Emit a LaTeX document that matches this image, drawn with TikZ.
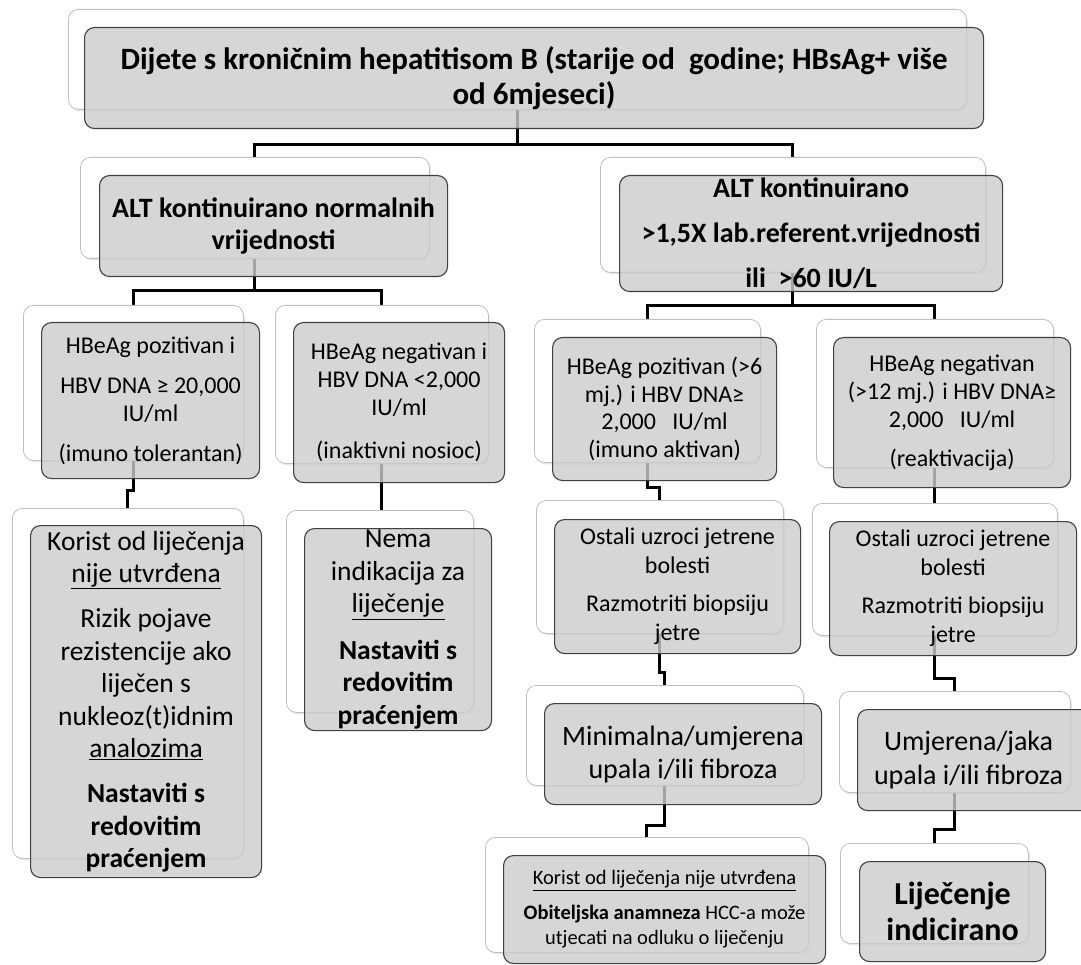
\documentclass[tikz,border=0pt]{standalone}
\usepackage{fontspec}
\setmainfont{Carlito}
\usetikzlibrary{shadows,calc}
\pgfdeclarelayer{bg}
\pgfsetlayers{bg,main}
\tikzset{
  wbox/.style={draw=black!25, fill=white, rounded corners=10pt, line width=0.8pt,
    drop shadow={shadow xshift=1.5pt, shadow yshift=-2pt, opacity=0.18}},
  gbox/.style={draw=black!75, fill=black!20, fill opacity=0.8, text opacity=1,
    rounded corners=10pt, line width=1.1pt, align=center, text=black},
  conn/.style={line width=3pt, black},
  bx/.style args={#1/#2}{anchor=north west, minimum width=#1pt, minimum height=#2pt, inner sep=0pt},
}
\begin{document}
\begin{tikzpicture}[x=1pt,y=-1pt]
\useasboundingbox (0,0) rectangle (1081,965);
\clip (0,0) rectangle (1081,965);
% ---- back (white) boxes
\node[wbox, bx=898/100] (w0) at (68,9) {};
\node[wbox, bx=349/101] (w1L) at (80,157) {};
\node[wbox, bx=385/115] (w1R) at (600,157) {};
\node[wbox, bx=220/155] (wA) at (23,305) {};
\node[wbox, bx=213/158] (wB) at (275,305) {};
\node[wbox, bx=226/143] (wC) at (534,319) {};
\node[wbox, bx=237/148] (wD) at (816,319) {};
\node[wbox, bx=231/350] (wAp) at (12,508) {};
\node[wbox, bx=187/202] (wBp) at (286,510) {};
\node[wbox, bx=247/133] (wCp) at (536,500) {};
\node[wbox, bx=245/132] (wDp) at (812,503) {};
\node[wbox, bx=277/100] (wCpp) at (526,685) {};
\node[wbox, bx=231/101] (wDpp) at (839,691) {};
\node[wbox, bx=323/115] (wCppp) at (485,837) {};
\node[wbox, bx=188/100] (wDppp) at (840,843) {};
% ---- front (grey) boxes with text
\node[gbox, bx=899/101, font=\fontsize{31}{35}\selectfont\bfseries] (g0) at (84,27)
  {Dijete s kroničnim hepatitisom B (starije od \ godine; HBsAg+ više\\od 6mjeseci)};
\node[gbox, bx=348/101, font=\fontsize{28}{32}\selectfont\bfseries] (g1L) at (99,175)
  {ALT kontinuirano normalnih\\vrijednosti};
\node[gbox, bx=383/116, font=\fontsize{28}{33}\selectfont\bfseries] (g1R) at (619,175)
  {ALT kontinuirano\\[12pt]>1,5X lab.referent.vrijednosti\\[12pt]ili \ >60 IU/L};
\node[gbox, bx=218/156, font=\fontsize{24}{28}\selectfont] (gA) at (41,322)
  {HBeAg pozitivan i\\[12pt]HBV DNA ≥ 20,000\\IU/ml\\[12pt](imuno tolerantan)};
\node[gbox, bx=211/160, font=\fontsize{24}{28}\selectfont] (gB) at (293,322)
  {HBeAg negativan i\\HBV DNA <2,000\\IU/ml\\[15pt](inaktivni nosioc)};
\node[gbox, bx=224/143, font=\fontsize{24}{27.5}\selectfont] (gC) at (552,337)
  {HBeAg pozitivan (>6\\mj.) i HBV DNA≥\\2,000 \ \ IU/ml\\(imuno aktivan)};
\node[gbox, bx=237/150, font=\fontsize{24}{28}\selectfont] (gD) at (833,337)
  {HBeAg negativan\\(>12 mj.) i HBV DNA≥\\2,000 \ \ IU/ml\\[11pt](reaktivacija)};
\node[gbox, bx=231/352, font=\fontsize{27.5}{32.5}\selectfont] (gAp) at (30,525)
  {Korist od liječenja\\\underline{nije utvrđena}\\[12.5pt]Rizik pojave\\rezistencije ako\\liječen s\\nukleoz(t)idnim\\\underline{analozima}\\[12.5pt]\textbf{Nastaviti s}\\\textbf{redovitim}\\\textbf{praćenjem}};
\node[gbox, bx=187/202, font=\fontsize{27.5}{32.5}\selectfont] (gBp) at (304,528)
  {Nema\\indikacija za\\\underline{liječenje}\\[14pt]\textbf{Nastaviti s}\\\textbf{redovitim}\\\textbf{praćenjem}};
\node[gbox, bx=246/134, font=\fontsize{24}{29}\selectfont] (gCp) at (554,519)
  {Ostali uzroci jetrene\\bolesti\\[9pt]Razmotriti biopsiju\\jetre};
\node[gbox, bx=247/134, font=\fontsize{24}{29}\selectfont] (gDp) at (829,521)
  {Ostali uzroci jetrene\\bolesti\\[9pt]Razmotriti biopsiju\\jetre};
\node[gbox, bx=277/101, font=\fontsize{28}{33}\selectfont] (gCpp) at (544,703)
  {Minimalna/umjerena\\upala i/ili fibroza};
\node[gbox, bx=240/101, font=\fontsize{28}{34}\selectfont] (gDpp) at (857,709)
  {\hspace*{-18pt}Umjerena/jaka\\\hspace*{-18pt}upala i/ili fibroza};
\node[gbox, bx=322/108, font=\fontsize{20.5}{25}\selectfont] (gCppp) at (503,855)
  {\underline{Korist od liječenja nije utvrđena}\\[10pt]\textbf{Obiteljska anamneza} HCC-a može\\utjecati na odluku o liječenju};
\node[gbox, bx=186/100, font=\fontsize{32}{36}\selectfont\bfseries] (gDppp) at (859,861)
  {Liječenje\\indicirano};
% ---- connectors
\begin{pgfonlayer}{bg}
\draw[conn] (w0.south) -- ++(0,35) -| (w1L.north);
\draw[conn] (w0.south) -- ++(0,35) -| (w1R.north);
\draw[conn] (w1L.south) -- ++(0,32) -| (wA.north);
\draw[conn] (w1L.south) -- ++(0,32) -| (wB.north);
\draw[conn] (w1R.south) -- ++(0,33) -| (wC.north);
\draw[conn] (w1R.south) -- ++(0,33) -| (wD.north);
\draw[conn] (wA.south) -- ++(0,30) -| (wAp.north);
\draw[conn] (wB.south) -- (wB.south |- wBp.north);
\draw[conn] (wC.south) -- ++(0,25) -| (wCp.north);
\draw[conn] (wD.south) -- (wD.south |- wDp.north);
\draw[conn] (wCp.south) -- ++(0,39) -| (wCpp.north);
\draw[conn] (wDp.south) -- ++(0,43) -| (wDpp.north);
\draw[conn] (wCpp.south) -- ++(0,40) -| (wCppp.north);
\draw[conn] (wDpp.south) -- ++(0,37) -| (wDppp.north);
\end{pgfonlayer}
\end{tikzpicture}
\end{document}
